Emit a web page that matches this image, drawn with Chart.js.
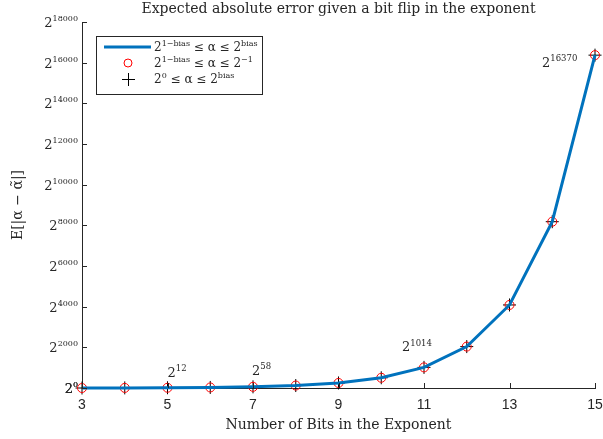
<!DOCTYPE html>
<html>
<head>
<meta charset="utf-8">
<script src="https://cdn.jsdelivr.net/npm/chart.js@4/dist/chart.umd.min.js"></script>
<style>
  html, body { margin: 0; padding: 0; background: #fff; }
  #wrap { width: 603px; height: 439px; position: relative; }
</style>
</head>
<body>
<div id="wrap"><canvas id="chart"></canvas></div>
<script>
// number of bits in the exponent
const bits = [3, 4, 5, 6, 7, 8, 9, 10, 11, 12, 13, 14, 15];
// log2 of the expected absolute error
const log2Error = [0, 5, 12, 27, 58, 121, 248, 503, 1014, 2037, 4084, 8179, 16370];

const xTicks = [3, 5, 7, 9, 11, 13, 15];
const yTicks = [0, 2000, 4000, 6000, 8000, 10000, 12000, 14000, 16000, 18000];

// labelled points: [bits, exponent shown]
const annotations = [[3, 0], [5, 12], [7, 58], [11, 1014], [15, 16370]];
const annotationOffsets = [[-4, 5, 'right'], [0, -11, 'left'], [-1, -12, 'left'], [-22, -16, 'left'], [-53, 12, 'left']];

const legendLabels = [
    [['2', false], ['1\u2212bias', true], [' \u2264 \u03b1 \u2264 2', false], ['bias', true]],
    [['2', false], ['1\u2212bias', true], [' \u2264 \u03b1 \u2264 2', false], ['\u22121', true]],
    [['2', false], ['0', true], [' \u2264 \u03b1 \u2264 2', false], ['bias', true]]
];

const SERIF = '"DejaVu Serif", serif';
const SANS = '"Liberation Sans", Arial, sans-serif';
const TEXT = '#262626';
const BLUE = '#0072BD';

const points = bits.map((b, i) => ({ x: b, y: log2Error[i] }));

// text with superscripts: parts = [[text, isSup], ...]
function drawRich(ctx, parts, x, y, size, supSize, align) {
    let width = 0;
    parts.forEach(([t, sup]) => {
        ctx.font = (sup ? supSize : size) + 'px ' + SERIF;
        width += ctx.measureText(t).width;
    });
    let cx = align === 'right' ? x - width : (align === 'center' ? x - width / 2 : x);
    ctx.textAlign = 'left';
    ctx.textBaseline = 'alphabetic';
    parts.forEach(([t, sup]) => {
        ctx.font = (sup ? supSize : size) + 'px ' + SERIF;
        ctx.fillText(t, cx, sup ? y - size * 0.45 : y);
        cx += ctx.measureText(t).width;
    });
}

const decorations = {
    id: 'decorations',
    afterDraw(chart) {
        const ctx = chart.ctx;
        const xs = chart.scales.x, ys = chart.scales.y;
        const area = chart.chartArea;
        ctx.save();
        ctx.fillStyle = TEXT;
        ctx.strokeStyle = TEXT;
        ctx.lineWidth = 1;

        // inward tick marks
        ctx.beginPath();
        yTicks.forEach(v => {
            const py = Math.round(ys.getPixelForValue(v)) + 0.5;
            ctx.moveTo(area.left, py);
            ctx.lineTo(area.left + 5, py);
        });
        xTicks.forEach(v => {
            const px = Math.round(xs.getPixelForValue(v)) + 0.5;
            ctx.moveTo(px, area.bottom);
            ctx.lineTo(px, area.bottom - 5);
        });
        ctx.stroke();

        // y tick labels 2^k
        yTicks.forEach(v => {
            const py = ys.getPixelForValue(v);
            drawRich(ctx, [['2', false], [String(v), true]], area.left - 4, py + 5, 13, 8, 'right');
        });

        // x tick labels
        ctx.font = '14px ' + SANS;
        ctx.textAlign = 'center';
        ctx.textBaseline = 'middle';
        xTicks.forEach(v => ctx.fillText(String(v), xs.getPixelForValue(v), area.bottom + 17));

        // title and axis titles
        ctx.font = '14px ' + SERIF;
        ctx.textAlign = 'center';
        ctx.textBaseline = 'middle';
        ctx.fillText('Expected absolute error given a bit flip in the exponent', (area.left + area.right) / 2, 9);
        ctx.fillText('Number of Bits in the Exponent', (area.left + area.right) / 2, 425);
        ctx.save();
        ctx.translate(18, (area.top + area.bottom) / 2);
        ctx.rotate(-Math.PI / 2);
        ctx.fillText('E[|\u03b1 \u2212 \u03b1\u0303|]', 0, 0);
        ctx.restore();

        // point annotations
        annotations.forEach(([b, e], i) => {
            const [dx, dy, align] = annotationOffsets[i];
            const px = xs.getPixelForValue(b) + dx;
            const py = ys.getPixelForValue(e) + dy;
            const sup = align === 'right' ? 8 : 8.5;
            drawRich(ctx, [['2', false], [String(e), true]], px, py, 13, sup, align);
        });

        // legend
        const lx = 96, ly = 36, lw = 166, lh = 58;
        ctx.fillStyle = '#fff';
        ctx.fillRect(lx, ly, lw, lh);
        ctx.strokeStyle = TEXT;
        ctx.strokeRect(lx + 0.5, ly + 0.5, lw, lh);
        const rowY = [47, 63, 79];
        ctx.strokeStyle = BLUE;
        ctx.lineWidth = 3;
        ctx.beginPath();
        ctx.moveTo(104, rowY[0]);
        ctx.lineTo(151, rowY[0]);
        ctx.stroke();
        ctx.strokeStyle = '#ff0000';
        ctx.lineWidth = 1;
        ctx.beginPath();
        ctx.arc(128, rowY[1], 4, 0, Math.PI * 2);
        ctx.stroke();
        ctx.strokeStyle = '#000';
        ctx.beginPath();
        ctx.moveTo(122, rowY[2] + 0.5);
        ctx.lineTo(135, rowY[2] + 0.5);
        ctx.moveTo(128.5, rowY[2] - 6);
        ctx.lineTo(128.5, rowY[2] + 7);
        ctx.stroke();
        ctx.fillStyle = TEXT;
        legendLabels.forEach((parts, i) => drawRich(ctx, parts, 154, rowY[i] + 4, 12, 8, 'left'));

        ctx.restore();
    }
};

new Chart(document.getElementById('chart'), {
    type: 'line',
    data: {
        datasets: [
            {
                data: points,
                borderColor: BLUE,
                borderWidth: 3,
                pointRadius: 0,
                tension: 0,
                clip: false
            },
            {
                data: points,
                showLine: false,
                pointStyle: 'circle',
                pointRadius: 4.5,
                pointBorderWidth: 1,
                pointBorderColor: '#ff0000',
                pointBackgroundColor: 'rgba(0,0,0,0)',
                clip: false
            },
            {
                data: points,
                showLine: false,
                pointStyle: 'cross',
                pointRadius: 6.5,
                pointBorderWidth: 1,
                pointBorderColor: '#000',
                clip: false
            }
        ]
    },
    options: {
        responsive: true,
        maintainAspectRatio: false,
        animation: false,
        layout: { padding: { left: 82, right: 8, top: 22, bottom: 51 } },
        plugins: {
            legend: { display: false },
            title: { display: false },
            tooltip: { enabled: false }
        },
        scales: {
            x: {
                type: 'linear',
                min: 3,
                max: 15,
                grid: { display: false, drawTicks: false },
                border: { display: true, color: TEXT, width: 1 },
                ticks: { display: false }
            },
            y: {
                type: 'linear',
                min: 0,
                max: 18000,
                grid: { display: false, drawTicks: false },
                border: { display: true, color: TEXT, width: 1 },
                ticks: { display: false }
            }
        }
    },
    plugins: [decorations]
});
</script>
</body>
</html>
